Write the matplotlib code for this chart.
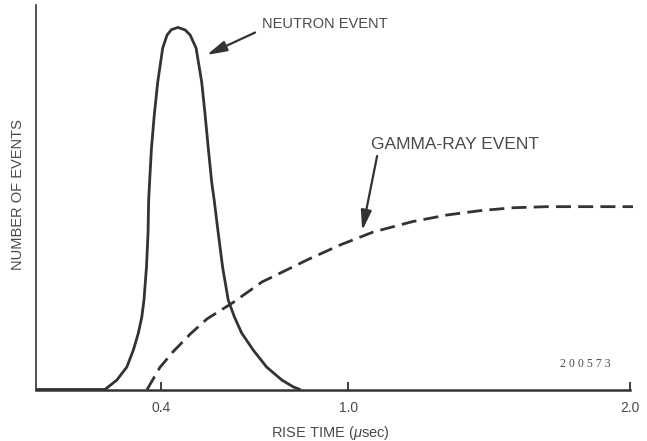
import numpy as np
import matplotlib
matplotlib.use("Agg")
import matplotlib.pyplot as plt

plt.rcParams['font.family'] = ['Liberation Sans', 'DejaVu Sans']
plt.rcParams['mathtext.fontset'] = 'custom'
plt.rcParams['mathtext.it'] = 'Liberation Sans:italic'
plt.rcParams['mathtext.rm'] = 'Liberation Sans'

# rise time (usec) and number of events (arbitrary, peak = 100)
neutron_t = [0.0, 0.221, 0.259, 0.291, 0.312, 0.328, 0.339, 0.346, 0.354, 0.359,
             0.361, 0.364, 0.370, 0.379, 0.390, 0.406, 0.420, 0.434, 0.455,
             0.478, 0.494, 0.513, 0.531, 0.542, 0.552, 0.563, 0.571, 0.584,
             0.598, 0.616, 0.636, 0.659, 0.696, 0.739, 0.788, 0.825, 0.846]
neutron_n = [0.0, 0.0, 2.6, 6.2, 10.9, 15.6, 20.0, 24.7, 33.8, 43.2,
             52.3, 57.3, 66.7, 75.8, 84.9, 94.3, 97.9, 99.4, 100.0,
             99.3, 97.9, 94.3, 84.9, 75.8, 66.7, 57.3, 52.3, 43.2,
             33.8, 24.7, 20.0, 15.6, 10.9, 6.2, 2.6, 0.7, 0.0]

gamma_t = [0.356, 0.397, 0.439, 0.494, 0.548, 0.631, 0.724, 0.760, 0.869, 0.974,
           1.089, 1.230, 1.351, 1.468, 1.585, 1.706, 1.823, 2.01]
gamma_n = [0.0, 6.1, 10.4, 15.3, 19.5, 24.0, 29.7, 31.2, 35.8, 39.9,
           43.5, 46.4, 48.2, 49.4, 50.2, 50.5, 50.5, 50.5]

tick_values = [0.4, 1.0, 2.0]
tick_labels = ["0.4", "1.0", "2.0"]

ink = "#333333"
text_col = "#4a4a4a"


# the original drawing is slightly compressed above 1.0 usec
def fwd(x):
    x = np.asarray(x, dtype=float)
    return np.where(x <= 1, x, 1 + (x - 1) * 0.904)


def inv(y):
    y = np.asarray(y, dtype=float)
    return np.where(y <= 1, y, 1 + (y - 1) / 0.904)


fig = plt.figure(figsize=(6.47, 4.41), dpi=100)
ax = fig.add_axes([36 / 647, 51.5 / 441, 597 / 647, 384.5 / 441])
ax.set_xscale('function', functions=(fwd, inv))

ax.plot(neutron_t, neutron_n, color=ink, lw=2.0, solid_capstyle='round',
        solid_joinstyle='round')
ax.plot(gamma_t, gamma_n, color=ink, lw=2.0, linestyle=(0, (5.4, 2.6)))

ax.set_xlim(0, 2.01)
ax.set_ylim(0, 106.2)

for s in ['top', 'right']:
    ax.spines[s].set_visible(False)
ax.spines['left'].set_linewidth(1.2)
ax.spines['bottom'].set_linewidth(1.8)
ax.spines['left'].set_color(ink)
ax.spines['bottom'].set_color(ink)
ax.spines['bottom'].set_bounds(0, 2.0)

ax.set_yticks([])
ax.set_xticks(tick_values)
ax.set_xticklabels(tick_labels)
ax.tick_params(axis='x', direction='in', length=6, width=1.3, color=ink,
               labelsize=10, labelcolor=text_col, pad=8)

ax.set_xlabel(r"RISE TIME ($\mu$sec)", fontsize=10.5, color=text_col)
ax.xaxis.label.set_va('center')
ax.xaxis.set_label_coords(0.4925, -0.112)
ax.set_ylabel("NUMBER OF EVENTS", fontsize=10.5, color=text_col)
ax.yaxis.label.set_va('center')
ax.yaxis.set_label_coords(-18 / 597, 0.506)

arrow = dict(arrowstyle='-|>,head_length=1.2,head_width=0.32', color=ink,
             lw=1.6, shrinkA=0, shrinkB=0)
ax.annotate("", xy=(0.547, 92.4), xytext=(0.702, 98.6), arrowprops=arrow)
ax.annotate("", xy=(1.050, 43.9), xytext=(1.103, 64.5), arrowprops=arrow)

ax.text(0.723, 101, "NEUTRON EVENT", fontsize=10.5, color=text_col,
        ha='left', va='center')
ax.text(1.082, 67.8, "GAMMA-RAY EVENT", fontsize=12.5, color=text_col,
        ha='left', va='center')
ax.text(1.842, 7.0, "2 0 0 5 7 3", fontsize=8.5, color=text_col,
        family='Liberation Serif', ha='center', va='center')

fig.savefig("out.png", dpi=100)
